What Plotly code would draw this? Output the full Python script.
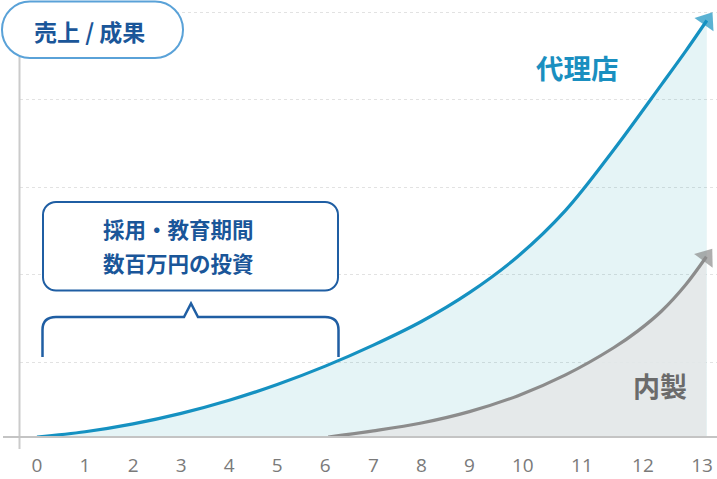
import plotly.graph_objects as go

W, H = 717, 479
# plot area margins (px)
L, R, T, B = 20, 0, 0, 42

# x axis: labels and where they sit
tick_labels = ["0", "1", "2", "3", "4", "5", "6", "7", "8", "9", "10", "11", "12", "13"]
tick_pos = [0, 1, 2, 3, 4, 5, 6, 7, 8, 9, 10.11, 11.34, 12.61, 13.84]

# 代理店 curve
agency_x = [0, 1, 2, 3, 4, 5, 6, 7, 8, 9, 10, 11, 12, 13, 13.5, 13.94]
agency_y = [0, 0.06, 0.15, 0.27, 0.42, 0.60, 0.81, 1.05, 1.32, 1.65, 2.06, 2.59, 3.28, 4.03, 4.41, 4.76]

# 内製 curve
inhouse_x = [6.06, 7, 8, 9, 10, 11, 12, 12.5, 13, 13.5, 13.93]
inhouse_y = [0, 0.07, 0.16, 0.29, 0.47, 0.71, 1.02, 1.21, 1.44, 1.74, 2.06]

BLUE = "#1591c1"
GRAY = "#8c8c8c"
NAVY = "#1a5699"
JP = "Noto Sans CJK JP"

# px -> paper helpers for the decorations
def px(x):
    return round((x - L) / (W - L - R), 5)

def py(y):
    return round((H - B - y) / (H - T - B), 5)

def rrect(x0, y0, x1, y1, r):
    k = 0.5523 * r
    return (
        f"M{px(x0 + r)},{py(y0)} H{px(x1 - r)} "
        f"C{px(x1 - r + k)},{py(y0)} {px(x1)},{py(y0 + r - k)} {px(x1)},{py(y0 + r)} "
        f"V{py(y1 - r)} "
        f"C{px(x1)},{py(y1 - r + k)} {px(x1 - r + k)},{py(y1)} {px(x1 - r)},{py(y1)} "
        f"H{px(x0 + r)} "
        f"C{px(x0 + r - k)},{py(y1)} {px(x0)},{py(y1 - r + k)} {px(x0)},{py(y1 - r)} "
        f"V{py(y0 + r)} "
        f"C{px(x0)},{py(y0 + r - k)} {px(x0 + r - k)},{py(y0)} {px(x0 + r)},{py(y0)} Z"
    )

def end_sizes(n, size):
    return [0] * (n - 1) + [size]

fig = go.Figure()

fig.add_trace(go.Scatter(
    x=agency_x, y=agency_y,
    mode="lines+markers",
    line=dict(color=BLUE, width=3.2, shape="spline", smoothing=1),
    fill="tozeroy", fillcolor="rgba(0,150,170,0.10)",
    marker=dict(symbol="triangle-up", size=end_sizes(len(agency_x), 20),
                color=BLUE, angleref="previous", line=dict(width=0)),
    cliponaxis=False, showlegend=False, hoverinfo="skip",
))

fig.add_trace(go.Scatter(
    x=inhouse_x, y=inhouse_y,
    mode="lines+markers",
    line=dict(color=GRAY, width=3.2, shape="spline", smoothing=1),
    fill="tozeroy", fillcolor="rgba(228,232,233,0.9)",
    marker=dict(symbol="triangle-up", size=end_sizes(len(inhouse_x), 20),
                color=GRAY, angleref="previous", line=dict(width=0)),
    cliponaxis=False, showlegend=False, hoverinfo="skip",
))

shapes = [
    # y axis line
    dict(type="line", xref="paper", yref="paper",
         x0=px(19.5), x1=px(19.5), y0=py(57), y1=py(449),
         line=dict(color="#cbcbcb", width=2)),
    # baseline
    dict(type="line", xref="paper", yref="paper",
         x0=px(3), x1=px(717), y0=py(437), y1=py(437),
         line=dict(color="#c4c4c4", width=2)),
    # 売上 / 成果 pill
    dict(type="path", xref="paper", yref="paper", path=rrect(2, 1.5, 183, 58, 28),
         fillcolor="white", line=dict(color="#5aa2d8", width=2)),
    # speech box
    dict(type="path", xref="paper", yref="paper", path=rrect(43, 202, 338, 290.5, 13),
         fillcolor="white", line=dict(color="#1f5ea3", width=2)),
    # bracket
    dict(type="path", xref="paper", yref="paper",
         path=(f"M{px(42.5)},{py(357)} V{py(330)} Q{px(42.5)},{py(317)} {px(56)},{py(317)} "
               f"H{px(184)} L{px(191)},{py(303.5)} L{px(198)},{py(317)} H{px(325)} "
               f"Q{px(338.5)},{py(317)} {px(338.5)},{py(330)} V{py(357)}"),
         line=dict(color="#1f5ea3", width=2.5)),
]

annotations = [
    dict(text="売上 / 成果", x=px(90), y=py(31),
         font=dict(family=JP, size=23, color=NAVY, weight="bold")),
    dict(text="採用・教育期間", x=px(178.5), y=py(228),
         font=dict(family=JP, size=21.5, color=NAVY, weight="bold")),
    dict(text="数百万円の投資", x=px(178.5), y=py(263),
         font=dict(family=JP, size=21.5, color=NAVY, weight="bold")),
    dict(text="代理店", x=px(577.5), y=py(67.5),
         font=dict(family=JP, size=27.5, color="#1a8fc0", weight="bold")),
    dict(text="内製", x=px(660), y=py(385.5),
         font=dict(family=JP, size=27, color="#6b6b6b", weight="bold")),
]
for a in annotations:
    a.update(xref="paper", yref="paper", showarrow=False,
             xanchor="center", yanchor="middle")

x0 = -(37 - L) / 48.05
x1 = x0 + (W - L - R) / 48.05

fig.update_layout(
    width=W, height=H,
    margin=dict(l=L, r=R, t=T, b=B),
    paper_bgcolor="white", plot_bgcolor="white",
    font=dict(family=JP),
    shapes=shapes,
    annotations=annotations,
    xaxis=dict(
        range=[x0, x1], tickvals=tick_pos, ticktext=tick_labels,
        showgrid=False, zeroline=False, showline=False, ticks="",
        ticklabelstandoff=15,
        tickfont=dict(family="Open Sans", size=19, color="#7a7a7a"),
        fixedrange=True,
    ),
    yaxis=dict(
        range=[0, (H - B - T) / 87.5], tick0=75 / 87.5, dtick=1,
        showgrid=True, gridcolor="#e2e2e2", gridwidth=1, griddash="dot",
        zeroline=False, showline=False, showticklabels=False, ticks="",
        fixedrange=True,
    ),
)

fig.write_html("out.html", config={"displayModeBar": False},
               post_script="document.body.style.margin='0';")
